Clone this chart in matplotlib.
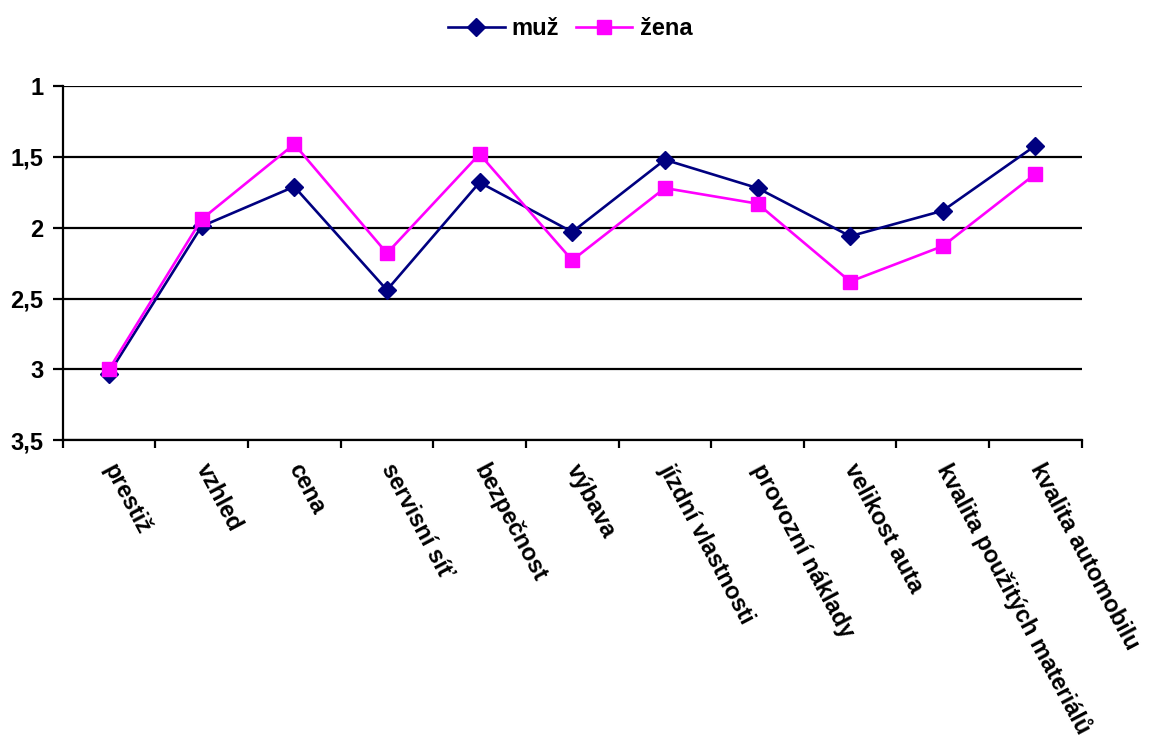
import numpy as np
import matplotlib.pyplot as plt

categories = ["prestiž", "vzhled", "cena", "servisní síť", "bezpečnost", "výbava",
              "jízdní vlastnosti", "provozní náklady", "velikost auta",
              "kvalita použitých materiálů", "kvalita automobilu"]
muz = [3.03, 1.99, 1.71, 2.44, 1.68, 2.03, 1.52, 1.72, 2.06, 1.88, 1.42]
zena = [3.00, 1.94, 1.41, 2.18, 1.48, 2.23, 1.72, 1.83, 2.38, 2.13, 1.62]
y_ticks = [1, 1.5, 2, 2.5, 3, 3.5]
y_labels = ["1", "1,5", "2", "2,5", "3", "3,5"]

plt.rcParams["font.family"] = ["Liberation Sans", "DejaVu Sans"]
plt.rcParams["font.weight"] = "bold"

fig = plt.figure(figsize=(11.54, 7.36), dpi=100)
ax = fig.add_axes([0.0543, 0.402, 0.8831, 0.481])

x = np.arange(len(categories))
ax.plot(x, muz, color="#000080", lw=1.9, marker="D", ms=9, label="muž", zorder=3)
ax.plot(x, zena, color="#FF00FF", lw=1.9, marker="s", ms=10, label="žena", zorder=3)

ax.set_xlim(-0.5, len(categories) - 0.5)
ax.set_ylim(3.5, 1)
ax.set_yticks(y_ticks)
ax.set_yticklabels(y_labels, fontsize=17, fontweight="bold")
ax.yaxis.grid(True, color="black", lw=1.6)
ax.set_axisbelow(True)

# tick marks on category boundaries, labels on centres
ax.set_xticks(np.arange(-0.5, len(categories), 1))
ax.set_xticklabels([])
ax.set_xticks(x, minor=True)
ax.set_xticklabels(categories, minor=True, fontsize=17, fontweight="bold",
                   rotation=-62, ha="left", va="center", rotation_mode="anchor")
ax.tick_params(axis="x", which="major", length=6, width=1.6, direction="out")
ax.tick_params(axis="x", which="minor", length=0, pad=18)
ax.tick_params(axis="y", length=7, width=1.6, pad=7)

for side in ["top", "right"]:
    ax.spines[side].set_visible(False)
for side in ["left", "bottom"]:
    ax.spines[side].set_linewidth(1.6)

fig.legend(loc="upper center", bbox_to_anchor=(0.494, 1.006), ncol=2, frameon=False,
           prop={"size": 17, "weight": "bold"}, handlelength=2.4, columnspacing=0.7,
           handletextpad=0.3)

fig.savefig("out.png", dpi=100)
